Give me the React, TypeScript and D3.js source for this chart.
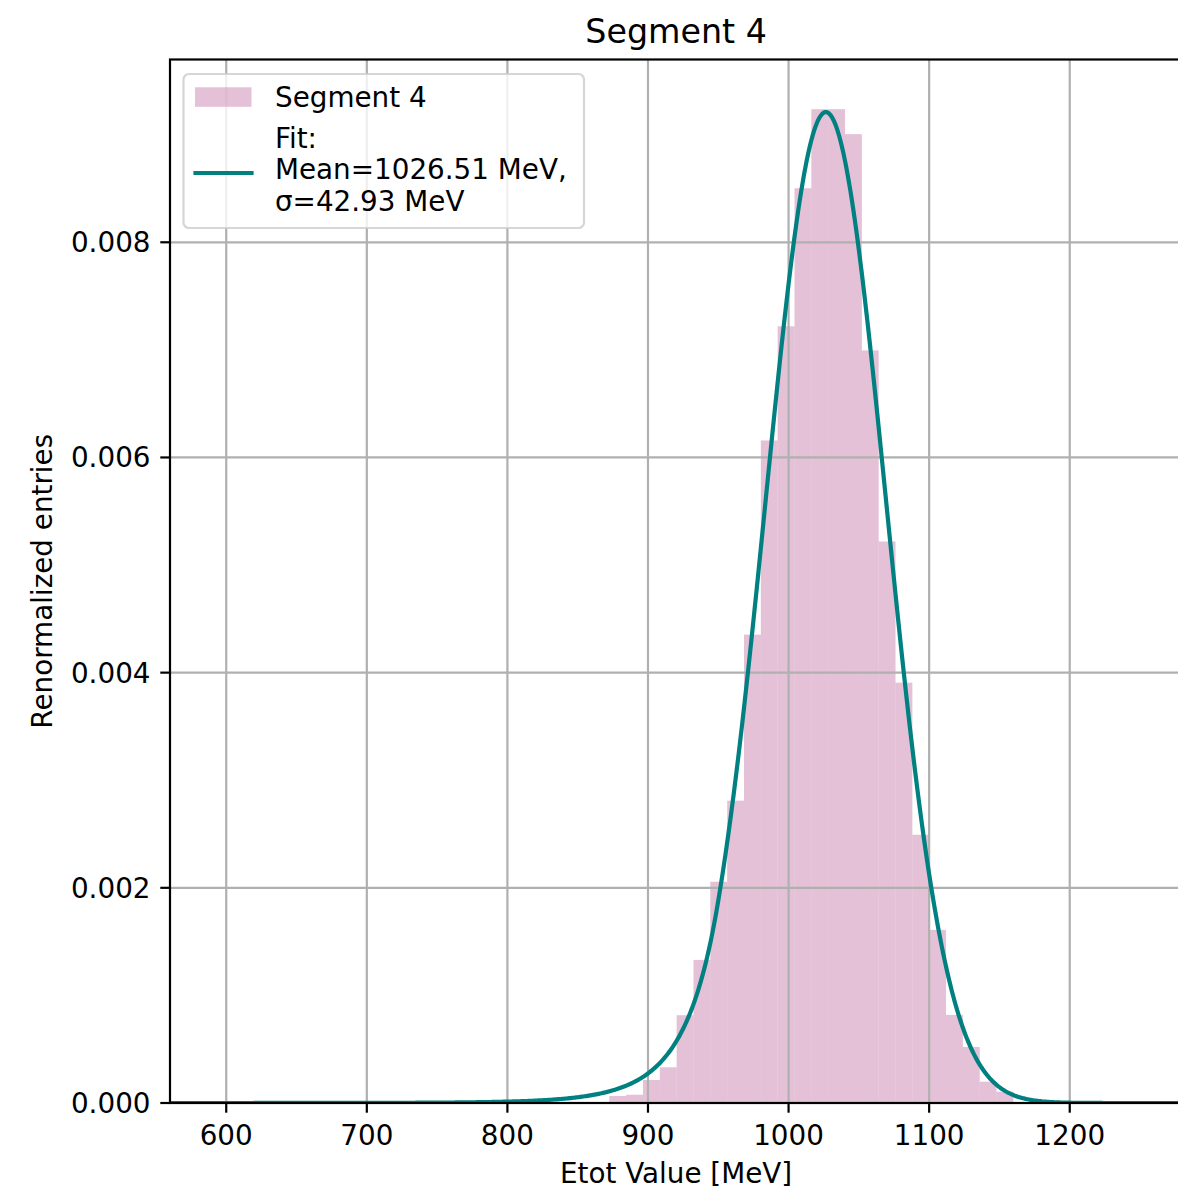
import React from "react";
import * as d3 from "d3";

// histogram (density), 24 equal bins between binLo and binHi
const binLo = 872.5;
const binHi = 1159.9;
const density = [
  0.000065, 0.000077, 0.000214, 0.000332, 0.000816, 0.00133, 0.002056, 0.00281,
  0.004353, 0.006158, 0.007219, 0.008502, 0.009237, 0.009237, 0.009005, 0.006995,
  0.005219, 0.003907, 0.002493, 0.001609, 0.000819, 0.000521, 0.000198, 0.000105,
];

// fit parameters (crystal-ball shape, low-side tail)
const fitMean = 1026.51;
const fitSigma = 42.93;
const fitAlpha = 1.8;
const fitN = 11;
const fitAmp = 0.00921;

const xTicks = [600, 700, 800, 900, 1000, 1100, 1200];
const yTicks = [0, 0.002, 0.004, 0.006, 0.008];
const xDomain = [560, 1280];

const W = 1178;
const H = 1195;
const FONT = "DejaVu Sans, sans-serif";

function fitCurve(x: number) {
  const z = (x - fitMean) / fitSigma;
  if (z > -fitAlpha) return fitAmp * Math.exp(-z * z / 2);
  const t = 1 + (fitAlpha * (-z - fitAlpha)) / fitN;
  return fitAmp * Math.exp(-fitAlpha * fitAlpha / 2) * Math.pow(t, -fitN);
}

class Chart extends React.Component {
  render() {
    const left = 170, right = 1182.2, top = 59.5, bottom = 1103;
    const xScale = d3.scaleLinear().domain(xDomain).range([left, right]);
    const yMax = (d3.max(density) as number) * 1.05;
    const yScale = d3.scaleLinear().domain([0, yMax]).range([bottom, top]);

    const bw = (binHi - binLo) / density.length;
    const pts = d3.range(xDomain[0], xDomain[1] + 0.5, 1).map((x) => [x, fitCurve(x)] as [number, number]);
    const line = d3.line<[number, number]>()
      .x((d) => xScale(d[0]))
      .y((d) => yScale(d[1]))
      .curve(d3.curveLinear);

    return (
      <svg width={W} height={H} style={{ position: "absolute", left: 0, top: 0, background: "white" }} fontFamily={FONT}>
        <defs>
          <clipPath id="ax">
            <rect x={left} y={top} width={right - left} height={bottom - top} />
          </clipPath>
        </defs>
        <g clipPath="url(#ax)">
          {density.map((d, i) => {
            const x0 = xScale(binLo + i * bw);
            const x1 = xScale(binLo + (i + 1) * bw);
            return (
              <rect key={i} x={x0} y={yScale(d)} width={x1 - x0} height={bottom - yScale(d)}
                fill="#c983ad" fillOpacity={0.5} />
            );
          })}
          {xTicks.map((t) => (
            <line key={"gx" + t} x1={xScale(t)} x2={xScale(t)} y1={top} y2={bottom} stroke="#b0b0b0" strokeWidth={2.2} />
          ))}
          {yTicks.map((t) => (
            <line key={"gy" + t} x1={left} x2={right} y1={yScale(t)} y2={yScale(t)} stroke="#b0b0b0" strokeWidth={2.2} />
          ))}
          <path d={line(pts) || ""} fill="none" stroke="#008080" strokeWidth={4.2} />
        </g>
        <rect x={left} y={top} width={right - left} height={bottom - top} fill="none" stroke="black" strokeWidth={2.2} />

        {xTicks.map((t) => (
          <g key={"tx" + t}>
            <line x1={xScale(t)} x2={xScale(t)} y1={bottom} y2={bottom + 9.7} stroke="black" strokeWidth={2.2} />
            <text x={xScale(t)} y={1145} fontSize={27.8} textAnchor="middle" fill="black">{t}</text>
          </g>
        ))}
        {yTicks.map((t) => (
          <g key={"ty" + t}>
            <line x1={left - 9.7} x2={left} y1={yScale(t)} y2={yScale(t)} stroke="black" strokeWidth={2.2} />
            <text x={150.5} y={yScale(t) + 10} fontSize={27.8} textAnchor="end" fill="black">{d3.format(".3f")(t)}</text>
          </g>
        ))}

        <text x={(left + right) / 2} y={42.7} fontSize={33.3} textAnchor="middle" fill="black">Segment 4</text>
        <text x={(left + right) / 2} y={1183.3} fontSize={27.8} textAnchor="middle" fill="black">Etot Value [MeV]</text>
        <text transform={`translate(52,${(top + bottom) / 2}) rotate(-90)`} fontSize={27.8} textAnchor="middle" fill="black">Renormalized entries</text>

        <g>
          <rect x={183.5} y={74} width={400.5} height={154} rx={5.5} fill="white" fillOpacity={0.8}
            stroke="#cccccc" strokeOpacity={0.8} strokeWidth={2.2} />
          <rect x={195} y={87.3} width={56.5} height={19.5} fill="#c983ad" fillOpacity={0.5} />
          <text x={275} y={107} fontSize={27.8} fill="black">Segment 4</text>
          <line x1={195.5} x2={251.5} y1={173} y2={173} stroke="#008080" strokeWidth={4.2} strokeLinecap="square" />
          <text x={275} y={148} fontSize={27.8} fill="black">Fit:</text>
          <text x={275} y={179.3} fontSize={27.8} fill="black">Mean=1026.51 MeV,</text>
          <text x={275} y={210.7} fontSize={27.8} fill="black">σ=42.93 MeV</text>
        </g>
      </svg>
    );
  }
}

export default function App() {
  return <Chart />;
}
